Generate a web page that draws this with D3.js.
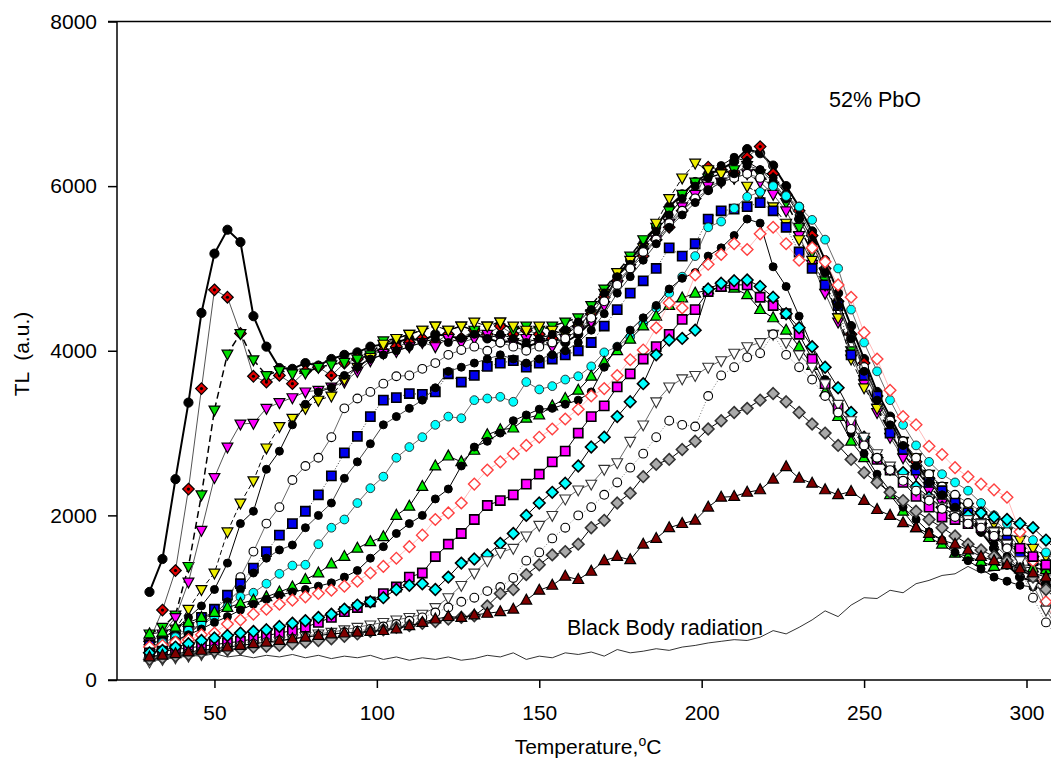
<!DOCTYPE html>
<html><head><meta charset="utf-8">
<script src="https://cdn.jsdelivr.net/npm/d3@7"></script>
<style>
body{margin:0;background:#fff;}
text{font-family:"Liberation Sans",Arial,sans-serif;fill:#000;}
</style>
</head><body>
<svg id="chart" width="1051" height="758"></svg>
<script>
// ---------------- DATA ----------------
const temps = [30,34,38,42,46,50,54,58,62,66,
  70,74,78,82,86,90,94,98,102,106,
  110,114,118,122,126,130,134,138,142,146,
  150,154,158,162,166,170,174,178,182,186,
  190,194,198,202,206,210,214,218,222,226,
  230,234,238,242,246,250,254,258,262,266,
  270,274,278,282,286,290,294,298,302,306,310];

const blackBig = [1070,1470,2440,3370,4460,5180,5470,5320,4420,4050,
  3790,3780,3850,3820,3900,3950,3980,4050,4080,4100,
  4150,4120,4200,4180,4150,4200,4150,4100,4120,4050,
  4100,4150,4100,4200,4350,4600,4900,5100,5300,5500,
  5750,5900,6050,6150,6200,6300,6450,6400,6250,6000,
  5750,5450,5100,4700,4300,3900,3500,3200,2900,2650,
  2400,2250,2100,1950,1800,1600,1400,1250,1200,1150,1100];
const redDiamond = [470,850,1330,2320,3540,4740,4650,4210,3690,3620,
  3700,3600,3750,3800,3700,3850,3900,3950,4000,4050,
  4100,4150,4100,4200,4150,4250,4200,4300,4200,4250,
  4200,4150,4250,4300,4450,4650,4850,5000,5150,5350,
  5500,5700,5850,6230,6200,6170,6350,6480,6150,5900,
  5700,5400,5000,4600,4200,3850,3450,3150,2850,2650,
  2450,2300,2150,2000,1900,1800,1700,1600,1500,1400,1300];
const greenDown = [560,640,790,1380,2250,3280,3960,4210,3890,3700,
  3760,3720,3730,3800,3830,3860,3900,3950,4120,4150,
  4200,4250,4300,4250,4300,4250,4300,4350,4250,4300,
  4250,4300,4350,4400,4550,4750,4950,5150,5350,5500,
  5700,5900,6050,6100,6150,6200,6250,6150,6000,5800,
  5500,5200,4850,4400,4000,3650,3300,3000,2750,2550,
  2350,2200,2100,1950,1850,1750,1650,1550,1450,1350,1250];
const magentaDown = [450,560,760,1190,1820,2460,2830,3110,3120,3300,
  3370,3430,3500,3520,3560,3620,3750,3880,3970,3990,
  4050,4100,4050,4150,4100,4150,4200,4150,4100,4150,
  4100,4050,4150,4250,4350,4550,4800,5000,5200,5350,
  5550,5750,5900,6000,6050,6100,6150,6050,5900,5700,
  5400,5050,4700,4350,3950,3600,3250,2950,2700,2500,
  2300,2150,2050,1950,1850,1750,1650,1550,1400,1300,1200];
const yellowDown = [380,480,620,860,1100,1300,1800,2150,2420,2820,
  3080,3180,3300,3400,3450,3650,3800,3920,4080,4150,
  4200,4250,4300,4250,4300,4350,4300,4350,4300,4250,
  4300,4250,4200,4300,4450,4700,4950,5100,5250,5550,
  5850,6100,6280,6200,6150,6100,6000,5900,5750,5550,
  5350,5100,4800,4400,3900,3550,3300,3100,2900,2700,
  2500,2350,2200,2100,2000,1900,1800,1700,1600,1500,1400];
const blackSmallA = [420,500,620,760,900,1100,1420,1900,2050,2560,
  2780,3100,3350,3500,3550,3700,3800,3900,3950,4000,
  4050,4100,4150,4100,4150,4200,4150,4200,4150,4100,
  4150,4200,4250,4350,4500,4700,4900,5050,5250,5450,
  5650,5850,6000,6100,6250,6350,6300,6200,6100,5900,
  5650,5350,5000,4600,4200,3800,3450,3150,2850,2600,
  2400,2250,2100,2000,1900,1750,1600,1400,1250,1150,1050];
const whiteCircleA = [330,380,450,560,700,850,1000,1250,1560,1900,
  2100,2430,2600,2700,2950,3300,3420,3500,3600,3690,
  3700,3780,3850,3950,4010,4050,4000,4100,4050,4000,
  4050,4100,4150,4250,4400,4600,4800,5000,5200,5350,
  5550,5700,5850,5950,6050,6100,6150,6100,6000,5850,
  5600,5300,4950,4550,4150,3800,3450,3150,2900,2700,
  2500,2350,2250,2150,2050,1950,1800,1600,1300,900,650];
const blueSquare = [420,450,520,640,760,860,1030,1170,1360,1560,
  1760,1900,2050,2250,2480,2760,2960,3200,3400,3430,
  3480,3470,3500,3720,3620,3700,3810,3850,3880,3800,
  3850,3900,3950,4000,4100,4300,4500,4700,4850,5000,
  5250,5150,5300,5600,5700,5720,5750,5800,5700,5500,
  5200,5000,4800,4550,3950,3700,3450,3000,2800,2550,
  2400,2300,2150,2030,1900,1800,1700,1550,1450,1350,1200];
const blackSmallB = [350,400,470,560,680,800,950,1100,1300,1480,
  1580,1640,1850,2000,2150,2450,2650,2870,3100,3200,
  3300,3400,3550,3750,3800,3850,3900,3950,3900,3850,
  3900,3950,4000,4100,4250,4450,4700,4900,5100,5300,
  5500,5650,5800,5950,6050,6150,6250,6200,6050,5850,
  5600,5300,4950,4550,4150,3750,3400,3100,2850,2600,
  2400,2250,2100,1950,1800,1650,1500,1350,1250,1200,1150];
const cyanCircle = [400,450,520,600,680,760,890,1010,1060,1170,
  1290,1390,1400,1650,1850,1950,2150,2330,2470,2700,
  2830,2950,3100,3200,3180,3400,3420,3440,3380,3620,
  3530,3570,3650,3690,3810,3980,4050,4170,4330,4520,
  4700,4900,5150,5500,5570,5730,5870,5930,6000,5880,
  5750,5590,5350,5000,4500,4100,3750,3400,3100,2850,
  2650,2500,2400,2300,2150,2000,1900,1800,1700,1550,1400];
const greenUp = [560,580,640,700,760,820,880,930,970,1010,
  1070,1130,1220,1300,1410,1500,1600,1680,1740,2000,
  2110,2350,2600,2720,2650,2790,2980,3040,3060,3180,
  3220,3330,3420,3520,3690,3860,4000,4140,4300,4420,
  4550,4640,4700,4740,4770,4760,4680,4500,4400,4250,
  4050,3820,3500,3200,2900,2700,2450,2250,2050,1850,
  1730,1650,1540,1500,1440,1380,1410,1380,1360,1340,1300];
const blackSmallC = [380,420,480,550,620,700,770,850,920,980,
  1030,1070,1100,1140,1180,1250,1330,1480,1620,1780,
  1900,2000,2200,2320,2600,2830,2900,3000,3150,3220,
  3290,3300,3350,3400,3500,3800,4050,4250,4400,4550,
  4750,4880,4950,5150,5250,5400,5600,5550,5020,4780,
  4420,4050,3650,3300,3000,2750,2500,2300,2100,1950,
  1800,1700,1550,1450,1350,1250,1200,1150,1130,1100,1050];
const pinkOpenDiamond = [400,420,460,490,550,570,680,730,800,860,
  920,970,1010,1050,1090,1140,1200,1300,1380,1480,
  1620,1760,1950,2030,2150,2380,2550,2650,2750,2850,
  2950,3050,3170,3290,3450,3540,3700,3890,4010,4280,
  4580,4520,4920,5050,5170,5300,5230,5420,5500,5300,
  5100,5250,5080,4800,4650,4220,3900,3520,3200,3100,
  2840,2740,2580,2470,2380,2310,2220,1800,1450,950,600];
const magentaSquare = [330,350,370,390,410,430,450,470,500,540,
  570,600,640,700,760,830,880,950,1050,1130,
  1250,1300,1500,1650,1780,1950,2120,2180,2250,2380,
  2500,2650,2780,3000,3200,3330,3560,3720,3900,4050,
  4200,4380,4500,4720,4780,4800,4800,4650,4550,4450,
  4200,3900,3600,3300,3100,2880,2680,2550,2400,2230,
  2100,1980,1950,1900,1850,1750,1650,1600,1500,1400,1300];
const cyanDiamond = [330,360,400,440,480,510,540,570,590,610,
  650,690,720,760,800,860,910,950,1000,1100,
  1150,1170,1100,1250,1420,1470,1520,1660,1780,2000,
  2150,2280,2390,2600,2830,2950,3200,3380,3600,3950,
  4130,4150,4250,4750,4820,4850,4860,4780,4650,4450,
  4280,4050,3800,3550,3250,2950,2700,2560,2520,2350,
  2220,2100,2000,2000,2030,1980,1950,1900,1850,1700,1550];
const whiteDownTri = [220,250,270,290,310,330,360,380,410,440,
  470,500,530,560,580,610,640,670,700,730,
  760,800,880,1000,1150,1300,1450,1550,1600,1750,
  1880,2000,2200,2310,2380,2560,2640,2900,3100,3380,
  3560,3660,3700,3800,3880,3970,4050,4100,4200,4100,
  3950,3800,3600,3350,3150,2950,2750,2600,2450,2300,
  2200,2100,2000,1950,1900,1800,1650,1450,1150,850,600];
const whiteCircleB = [260,280,300,330,350,380,400,420,440,460,
  480,500,520,540,560,580,600,620,650,680,
  720,760,820,880,950,1000,1080,1130,1240,1450,
  1550,1720,1850,2000,2100,2250,2400,2580,2750,2950,
  3150,3100,3080,3450,3700,3800,3920,3970,4200,3950,
  3800,3650,3450,3250,3050,2850,2700,2550,2420,2300,
  2180,2080,1980,1900,1850,1750,1600,1350,1000,700,500];
const greyDiamond = [250,270,290,310,330,350,370,380,400,410,
  420,440,460,480,500,530,560,590,610,640,
  660,690,710,740,760,780,900,1050,1100,1280,
  1400,1520,1560,1650,1850,1940,2150,2270,2470,2620,
  2680,2800,2900,3050,3150,3250,3300,3400,3480,3380,
  3250,3110,3000,2850,2680,2520,2400,2280,2180,2050,
  1950,1850,1750,1650,1580,1500,1450,1350,1250,1100,950];
const darkRedUp = [280,300,320,340,360,380,400,420,440,460,
  480,500,520,540,560,570,580,590,600,620,
  660,700,740,770,760,790,810,830,860,970,
  1090,1150,1260,1220,1320,1450,1500,1460,1650,1720,
  1850,1900,1940,2100,2220,2230,2280,2310,2440,2590,
  2450,2390,2310,2250,2290,2180,2070,2000,1910,1850,
  1780,1700,1650,1580,1500,1450,1400,1350,1300,1250,1200];
const blackBody = [300,290,310,300,290,320,280,300,270,300,
  280,310,270,300,260,290,270,300,250,280,
  240,270,250,280,240,260,300,280,330,250,
  290,270,330,310,340,290,370,330,350,380,
  360,400,420,450,470,490,480,520,600,560,
  640,730,840,770,910,1000,990,1090,1060,1170,
  1210,1270,1290,1380,1300,1330,1360,1390,1400,1420,1430];

const yTicks = [0,2000,4000,6000,8000];
const xTicks = [50,100,150,200,250,300];

// ---------------- STYLES ----------------
const series = [
  {v: blackBig,       shape:'circle',  r:4.6, fill:'#000',    stroke:'#000', sw:1,   line:'#000', lw:2,   dash:null},
  {v: redDiamond,     shape:'diamond', r:5.8, fill:'#e00000', stroke:'#000', sw:1.2, line:'#555', lw:1,   dash:null, dot:true},
  {v: greenDown,      shape:'triDown', r:6,   fill:'#00dd00', stroke:'#000', sw:1.2, line:'#000', lw:1.5, dash:'7,4'},
  {v: magentaDown,    shape:'triDown', r:6,   fill:'#ff00ff', stroke:'#000', sw:1.2, line:'#555', lw:1,   dash:null},
  {v: yellowDown,     shape:'triDown', r:6,   fill:'#eeee00', stroke:'#000', sw:1.2, line:'#000', lw:1,   dash:'5,3'},
  {v: blackSmallA,    shape:'circle',  r:4,   fill:'#000',    stroke:'#000', sw:1,   line:'#000', lw:1,   dash:null},
  {v: whiteCircleA,   shape:'circle',  r:4.4, fill:'#fff',    stroke:'#000', sw:1.1, line:'#444', lw:0.8, dash:null},
  {v: blueSquare,     shape:'square',  r:4.6, fill:'#0000ee', stroke:'#000', sw:1.6, line:'#333', lw:1,   dash:'1,2'},
  {v: blackSmallB,    shape:'circle',  r:4,   fill:'#000',    stroke:'#000', sw:1,   line:'#444', lw:1,   dash:null},
  {v: cyanCircle,     shape:'circle',  r:4.4, fill:'#00ffff', stroke:'#222', sw:0.9, line:'#444', lw:0.8, dash:null},
  {v: greenUp,        shape:'triUp',   r:6,   fill:'#00ee00', stroke:'#000', sw:1.2, line:'#000', lw:1,   dash:null},
  {v: blackSmallC,    shape:'circle',  r:4,   fill:'#000',    stroke:'#000', sw:1,   line:'#000', lw:1,   dash:null},
  {v: pinkOpenDiamond,shape:'diamond', r:5.8, fill:'#fff',    stroke:'#ff4040', sw:1.4, line:'#ff8888', lw:0.6, dash:null},
  {v: magentaSquare,  shape:'square',  r:4.6, fill:'#ff00ff', stroke:'#000', sw:1.6, line:'#000', lw:1,   dash:null},
  {v: cyanDiamond,    shape:'diamond', r:5.8, fill:'#00ffff', stroke:'#000', sw:1.6, line:'#000', lw:1,   dash:null},
  {v: whiteDownTri,   shape:'triDown', r:6,   fill:'#fff',    stroke:'#333', sw:1.1, line:'#444', lw:0.8, dash:null},
  {v: whiteCircleB,   shape:'circle',  r:4.4, fill:'#fff',    stroke:'#000', sw:1.1, line:'#555', lw:0.8, dash:'1,2'},
  {v: greyDiamond,    shape:'diamond', r:5.8, fill:'#aaaaaa', stroke:'#333', sw:1.6, line:'#000', lw:1,   dash:null},
  {v: darkRedUp,      shape:'triUp',   r:6,   fill:'#800000', stroke:'#000', sw:1.2, line:'#000', lw:1,   dash:null}
];

// ---------------- CHART ----------------
const svg = d3.select('#chart');
const x = d3.scaleLinear().domain([20, 300]).range([117, 1026.5]);
const y = d3.scaleLinear().domain([0, 8000]).range([680, 21.5]);

function markerPath(shape, r) {
  switch (shape) {
    case 'circle':  return d3.symbol(d3.symbolCircle, Math.PI * r * r)();
    case 'square':  return `M${-r},${-r}H${r}V${r}H${-r}Z`;
    case 'diamond': return `M0,${-r}L${r},0L0,${r}L${-r},0Z`;
    case 'triUp':   return `M0,${-r}L${r*0.9},${r*0.65}L${-r*0.9},${r*0.65}Z`;
    case 'triDown': return `M0,${r}L${r*0.9},${-r*0.65}L${-r*0.9},${-r*0.65}Z`;
  }
}

const plot = svg.append('g');

// black body radiation line (drawn beneath)
const lineGen = d3.line().x(d => x(d[0])).y(d => y(d[1]));
plot.append('path')
  .attr('d', lineGen(temps.map((t, i) => [t, blackBody[i]])))
  .attr('fill', 'none').attr('stroke', '#333').attr('stroke-width', 1);

series.forEach(s => {
  const pts = temps.map((t, i) => [t, s.v[i]]);
  const g = plot.append('g');
  g.append('path')
    .attr('d', lineGen(pts))
    .attr('fill', 'none')
    .attr('stroke', s.line)
    .attr('stroke-width', s.lw)
    .attr('stroke-dasharray', s.dash);
  const mk = markerPath(s.shape, s.r);
  g.selectAll('path.m').data(pts).enter().append('path')
    .attr('class', 'm')
    .attr('d', mk)
    .attr('transform', d => `translate(${x(d[0])},${y(d[1])})`)
    .attr('fill', s.fill).attr('stroke', s.stroke).attr('stroke-width', s.sw);
  if (s.dot) {
    g.selectAll('circle.dot').data(pts).enter().append('circle')
      .attr('class', 'dot')
      .attr('cx', d => x(d[0])).attr('cy', d => y(d[1])).attr('r', 1.6)
      .attr('fill', '#000');
  }
});

// axes
const yAxis = d3.axisLeft(y).tickValues(yTicks).tickSize(9).tickSizeOuter(0).tickPadding(11)
  .tickFormat(d3.format('d'));
const gy = svg.append('g').attr('transform', 'translate(117,0)').call(yAxis);
gy.select('.domain').remove();
gy.selectAll('line').attr('stroke', '#000').attr('stroke-width', 1.5);
gy.selectAll('text').attr('font-size', 21).attr('font-family', '"Liberation Sans",Arial,sans-serif').attr('fill', '#000');

const xAxis = d3.axisBottom(x).tickValues(xTicks).tickSize(8).tickSizeOuter(0).tickPadding(17)
  .tickFormat(d3.format('d'));
const gx = svg.append('g').attr('transform', 'translate(0,680)').call(xAxis);
gx.select('.domain').remove();
gx.selectAll('line').attr('stroke', '#000').attr('stroke-width', 1.5);
gx.selectAll('text').attr('font-size', 21).attr('font-family', '"Liberation Sans",Arial,sans-serif').attr('fill', '#000');

// frame lines
svg.append('line').attr('x1', 108).attr('x2', 1051).attr('y1', 680).attr('y2', 680)
  .attr('stroke', '#000').attr('stroke-width', 1.5);
svg.append('line').attr('x1', 108).attr('x2', 1051).attr('y1', 21.5).attr('y2', 21.5)
  .attr('stroke', '#000').attr('stroke-width', 1.5);
svg.append('line').attr('x1', 117).attr('x2', 117).attr('y1', 21.5).attr('y2', 680)
  .attr('stroke', '#000').attr('stroke-width', 1.5);

// titles
svg.append('text').attr('transform', 'translate(29,354) rotate(-90)')
  .attr('text-anchor', 'middle').attr('font-size', 21)
  .style('white-space', 'pre').text('TL  (a.u.)');

const xt = svg.append('text').attr('x', 588).attr('y', 754)
  .attr('text-anchor', 'middle').attr('font-size', 21);
xt.append('tspan').text('Temperature,');
xt.append('tspan').attr('dy', -8).attr('font-size', 14).text('o');
xt.append('tspan').attr('dy', 8).text('C');

svg.append('text').attr('x', 829).attr('y', 107).attr('font-size', 21.5).text('52% PbO');
svg.append('text').attr('x', 567).attr('y', 635).attr('font-size', 21.5).text('Black Body radiation');
</script>
</body></html>
